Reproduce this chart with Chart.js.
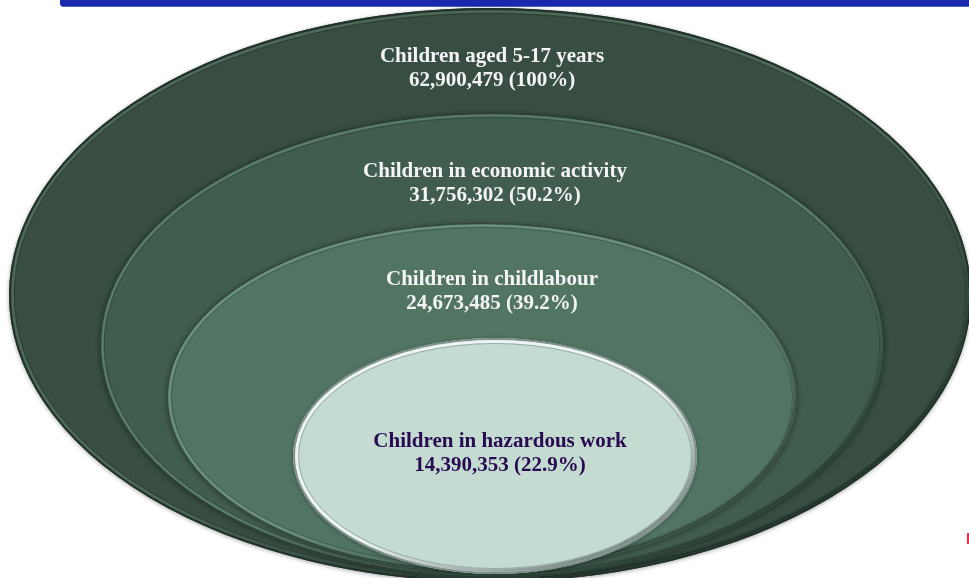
<!DOCTYPE html>
<html>
<head>
<meta charset="utf-8">
<script src="https://cdn.jsdelivr.net/npm/chart.js@4.4.1/dist/chart.umd.min.js"></script>
<style>
  html, body { margin: 0; padding: 0; background: #ffffff; }
  #wrap { width: 969px; height: 578px; position: relative; }
</style>
</head>
<body>
<div id="wrap"><canvas id="c" width="969" height="578"></canvas></div>
<script>
// ---- data ----
const categories = [
  "Children aged 5-17 years",
  "Children in economic activity",
  "Children in childlabour",
  "Children in hazardous work"
];
const childCounts = [62900479, 31756302, 24673485, 14390353];
const childShares = [100, 50.2, 39.2, 22.9];

// ---- layout (scale units = pixels of the 969x578 frame) ----
const ellipseLayout = [
  { cx: 490, cy: 295, rx: 481, ry: 287, tx: 492, ty: 73.5 },
  { cx: 492, cy: 345, rx: 393, ry: 233, tx: 495, ty: 188.5 },
  { cx: 482, cy: 397, rx: 316, ry: 175, tx: 492, ty: 296.5 },
  { cx: 495, cy: 456, rx: 202, ry: 118, tx: 500, ty: 459 }
];
const ellipseStyle = [
  { fill: "#384e42", hi: "#4d6a5a", lo: "#22332a", text: "#f4f4f4" },
  { fill: "#415d4f", hi: "#5a7d6b", lo: "#2b3f34", text: "#f4f4f4" },
  { fill: "#527563", hi: "#6c917f", lo: "#33493e", text: "#f4f4f4" },
  { fill: "#c3dbd1", hi: "#eef4f1", lo: "#7f8f89", text: "#2a0b52" }
];

function fmtCount(v) { return v.toLocaleString("en-US"); }
function fmtShare(p) { return "(" + String(p) + "%)"; }

const ellipsePlugin = {
  id: "nestedEllipses",
  beforeDatasetsDraw(chart) {
    const ctx = chart.ctx;
    const xs = chart.scales.x, ys = chart.scales.y;
    ctx.save();
    // slide title bar remnant
    ctx.fillStyle = "#1b27ad";
    ctx.beginPath();
    const bx0 = xs.getPixelForValue(60), bx1 = xs.getPixelForValue(969);
    const by1 = ys.getPixelForValue(7);
    ctx.moveTo(bx0, 0);
    ctx.lineTo(bx1, 0);
    ctx.lineTo(bx1, by1);
    ctx.lineTo(bx0 + 4, by1);
    ctx.quadraticCurveTo(bx0, by1, bx0, by1 - 4);
    ctx.closePath();
    ctx.fill();
    ctx.fillStyle = "#4b5fd0";
    ctx.fillRect(bx0 + 3, by1 - 1, bx1 - bx0 - 3, 1);

    chart.data.datasets.forEach((ds, i) => {
      const L = ellipseLayout[i], S = ellipseStyle[i];
      const cx = xs.getPixelForValue(L.cx), cy = ys.getPixelForValue(L.cy);
      const rx = Math.abs(xs.getPixelForValue(L.cx + L.rx) - cx);
      const ry = Math.abs(ys.getPixelForValue(L.cy + L.ry) - cy);
      // soft shadow + fill
      ctx.save();
      ctx.shadowColor = "rgba(0,0,0,0.35)";
      ctx.shadowBlur = 4;
      ctx.shadowOffsetY = 1;
      ctx.beginPath();
      ctx.ellipse(cx, cy, rx, ry, 0, 0, Math.PI * 2);
      ctx.fillStyle = S.fill;
      ctx.fill();
      ctx.restore();
      // outer dark rim
      ctx.beginPath();
      ctx.ellipse(cx, cy, rx - 1, ry - 1, 0, 0, Math.PI * 2);
      ctx.lineWidth = 2;
      ctx.strokeStyle = S.lo;
      ctx.stroke();
      // bevel band
      const g = ctx.createLinearGradient(cx - rx * 0.3, cy - ry, cx + rx * 0.3, cy + ry);
      g.addColorStop(0, S.hi);
      g.addColorStop(0.55, S.hi);
      g.addColorStop(1, S.lo);
      ctx.beginPath();
      ctx.ellipse(cx, cy, rx - 3.5, ry - 3.5, 0, 0, Math.PI * 2);
      ctx.lineWidth = i === 3 ? 3 : 2.2;
      ctx.strokeStyle = g;
      ctx.stroke();
      ctx.beginPath();
      ctx.ellipse(cx, cy, rx - 5.5, ry - 5.5, 0, 0, Math.PI * 2);
      ctx.lineWidth = 1;
      ctx.strokeStyle = i === 3 ? "rgba(120,140,132,0.6)" : "rgba(0,0,0,0.18)";
      ctx.stroke();
    });

    // small red mark at right edge
    ctx.fillStyle = "#e8323f";
    ctx.fillRect(xs.getPixelForValue(967), ys.getPixelForValue(533), 2, ys.getPixelForValue(544) - ys.getPixelForValue(533));
    ctx.restore();
  },
  afterDatasetsDraw(chart) {
    const ctx = chart.ctx;
    const xs = chart.scales.x, ys = chart.scales.y;
    ctx.save();
    ctx.textAlign = "center";
    ctx.textBaseline = "alphabetic";
    ctx.font = "bold 21px 'Liberation Serif', 'Times New Roman', serif";
    chart.data.datasets.forEach((ds, i) => {
      const L = ellipseLayout[i], S = ellipseStyle[i];
      const x = xs.getPixelForValue(L.tx);
      const y = ys.getPixelForValue(L.ty);
      ctx.fillStyle = S.text;
      ctx.fillText(categories[i], x, y - 12);
      ctx.fillText(fmtCount(childCounts[i]) + " " + fmtShare(childShares[i]), x, y + 12);
    });
    ctx.restore();
  }
};

const datasets = categories.map((name, i) => ({
  label: name,
  data: [{ x: ellipseLayout[i].cx, y: ellipseLayout[i].cy, v: childCounts[i] }],
  pointRadius: 0,
  pointHoverRadius: 0
}));

new Chart(document.getElementById("c"), {
  type: "scatter",
  data: { datasets },
  options: {
    responsive: false,
    animation: false,
    devicePixelRatio: 1,
    layout: { padding: 0 },
    plugins: { legend: { display: false }, tooltip: { enabled: false } },
    scales: {
      x: { type: "linear", min: 0, max: 969, display: false },
      y: { type: "linear", min: 0, max: 578, reverse: true, display: false }
    }
  },
  plugins: [ellipsePlugin]
});
</script>
</body>
</html>
